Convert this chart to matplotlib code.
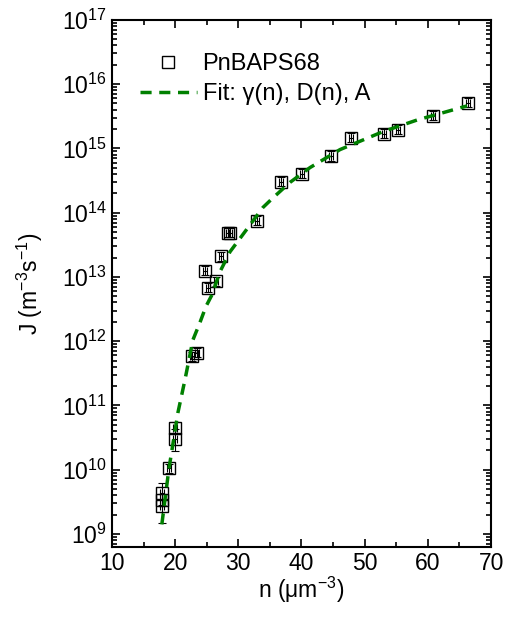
import matplotlib
matplotlib.use('Agg')
from matplotlib import pyplot as plt
from matplotlib.ticker import LogLocator, MultipleLocator, NullFormatter

plt.rcParams['font.family'] = ['Liberation Sans', 'DejaVu Sans']
plt.rcParams['mathtext.default'] = 'regular'

# measured points: density n (um^-3) and nucleation rate J (m^-3 s^-1)
n_data = [17.9, 17.9, 17.9, 19.0, 20.0, 20.0, 22.7, 23.5, 24.7, 25.2,
          26.5, 27.3, 28.3, 28.7, 33.0, 36.8, 40.1, 44.7, 47.8, 53.1,
          55.3, 60.8, 66.4]
J_data = [4.4e9, 3.4e9, 2.7e9, 1.05e10, 4.5e10, 3.0e10, 5.8e11, 6.6e11,
          1.25e13, 6.8e12, 8.5e12, 2.1e13, 4.9e13, 4.9e13, 7.5e13, 3.0e14,
          4.0e14, 7.6e14, 1.45e15, 1.7e15, 1.95e15, 3.2e15, 5.1e15]
# relative error bar size
J_relerr = [0.35, 0.2, 0.45, 0.15, 0.2, 0.35, 0.15, 0.15, 0.15, 0.15,
            0.15, 0.15, 0.15, 0.15, 0.15, 0.15, 0.15, 0.15, 0.15, 0.15,
            0.15, 0.15, 0.15]

# fit curve
n_fit = [17.9, 19.0, 20.45, 21.56, 22.82, 23.93, 24.88, 25.83, 27.1,
         28.68, 30.58, 33.9, 35.49, 38.18, 41.34, 46.09, 52.9, 58.28, 66.2]
logJ_fit = [9.15, 10.0, 10.89, 11.4, 12.02, 12.29, 12.54, 12.72, 13.08,
            13.39, 13.64, 14.08, 14.23, 14.47, 14.7, 14.98, 15.26, 15.44, 15.66]
J_fit = [10 ** v for v in logJ_fit]

y_ticks = [10 ** k for k in range(9, 18)]

fig = plt.figure(figsize=(5.11, 6.17), dpi=100)
ax = fig.add_axes([0.219, 0.1135, 0.742, 0.8545])

yerr = [[j * e for j, e in zip(J_data, J_relerr)],
        [j * e * 1.2 for j, e in zip(J_data, J_relerr)]]
ax.errorbar(n_data, J_data, xerr=0.3, yerr=yerr, fmt='none', ecolor='black',
            elinewidth=0.8, capsize=3, capthick=0.8, zorder=2)
ax.plot(n_data, J_data, 's', mfc='none', mec='black', ms=9, mew=1.0,
        label='PnBAPS68', zorder=3)
ax.plot(n_fit, J_fit, '--', color='#008000', lw=2.5, dashes=(3.2, 2.2),
        label='Fit: γ(n), D(n), A', zorder=4)

ax.set_yscale('log')
ax.set_xlim(10, 70)
ax.set_ylim(6.3e8, 1e17)
ax.xaxis.set_major_locator(MultipleLocator(10))
ax.xaxis.set_minor_locator(MultipleLocator(5))
ax.set_yticks(y_ticks)
ax.yaxis.set_minor_locator(LogLocator(base=10, subs=range(2, 10), numticks=20))
ax.yaxis.set_minor_formatter(NullFormatter())
ax.set_ylim(6.3e8, 1e17)

ax.tick_params(which='both', direction='in', top=True, right=True, labelsize=16.5, width=1.2)
ax.tick_params(which='major', length=6)
ax.tick_params(which='minor', length=3.5)
for s in ax.spines.values():
    s.set_linewidth(1.5)

ax.set_xlabel('n (μm$^{-3}$)', fontsize=16.5, labelpad=0)
ax.set_ylabel('J (m$^{-3}$s$^{-1}$)', fontsize=16.5, labelpad=12)

ax.legend(loc='upper left', bbox_to_anchor=(0.018, 0.977), frameon=False,
          fontsize=17, handlelength=2.4, handletextpad=0.25, labelspacing=0.35)

plt.savefig('out.png', dpi=100)
